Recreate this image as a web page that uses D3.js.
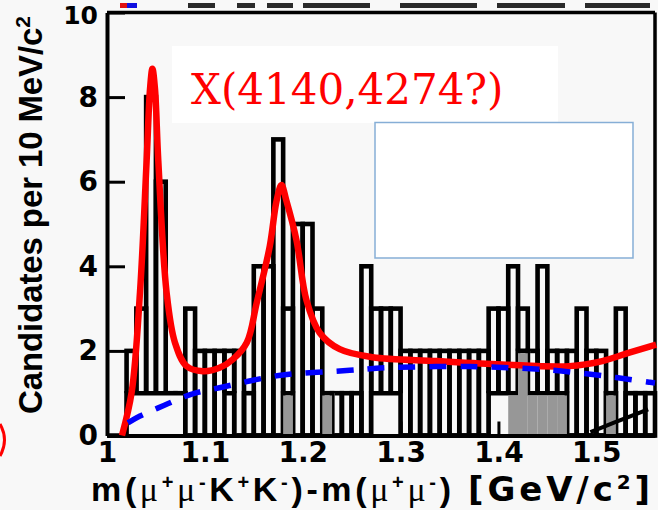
<!DOCTYPE html>
<html>
<head>
<meta charset="utf-8">
<script src="https://cdn.jsdelivr.net/npm/d3@7"></script>
<style>
  html, body { margin: 0; padding: 0; background: #f8f8f8; }
  svg { display: block; }
</style>
</head>
<body>
<svg id="chart" width="658" height="510"></svg>
<script>
// ---- data -------------------------------------------------------------
// Low edges of the 10 MeV/c^2 bins in m(mu mu K K) - m(mu mu) [GeV/c^2]
const binLowEdges = [
  1.00, 1.01, 1.02, 1.03, 1.04, 1.05, 1.06, 1.07, 1.08, 1.09,
  1.10, 1.11, 1.12, 1.13, 1.14, 1.15, 1.16, 1.17, 1.18, 1.19,
  1.20, 1.21, 1.22, 1.23, 1.24, 1.25, 1.26, 1.27, 1.28, 1.29,
  1.30, 1.31, 1.32, 1.33, 1.34, 1.35, 1.36, 1.37, 1.38, 1.39,
  1.40, 1.41, 1.42, 1.43, 1.44, 1.45, 1.46, 1.47, 1.48, 1.49,
  1.50, 1.51, 1.52, 1.53, 1.54, 1.55
];
const binWidth = 0.01;

// Candidates per bin (outlined histogram)
const candidates = [
  0, 0, 2, 3, 8, 6, 1, 1, 3, 2,
  2, 2, 2, 2, 1, 4, 4, 7, 3, 5,
  5, 3, 1, 1, 1, 1, 4, 3, 3, 3,
  2, 2, 2, 2, 2, 2, 2, 2, 2, 3,
  3, 4, 3, 2, 4, 2, 2, 2, 3, 2,
  2, 1, 3, 1, 1, 1
];

// Lower stacked component (open, no inner bin edges)
const lowerCounts = [
  0, 0, 1, 1, 1, 1, 1, 1, 0, 0,
  0, 0, 1, 0, 0, 0, 0, 0, 1, 0,
  0, 0, 1, 0, 0, 0, 0, 1, 1, 1,
  0, 0, 0, 0, 0, 0, 0, 0, 0, 1,
  1, 1, 2, 1, 1, 1, 1, 0, 0, 0,
  0, 1, 0, 0, 0, 0
];

// Shaded component
const shadedCounts = [
  0, 0, 0, 0, 0, 0, 0, 0, 0, 0,
  0, 0, 0, 0, 0, 0, 0, 0, 1, 0,
  0, 0, 1, 0, 0, 0, 0, 0, 0, 0,
  0, 0, 0, 0, 0, 0, 0, 0, 0, 0,
  0, 1, 2, 1, 1, 1, 1, 0, 0, 0,
  0, 1, 0, 0, 0, 0
];

// Total fit (solid red): [deltaM, candidates]
const fitTotal = [
  [1.0153, 0.00], [1.0252, 1.02], [1.0337, 3.38], [1.0405, 6.50], [1.0440, 8.20],
  [1.0464, 8.67], [1.0490, 8.20], [1.0524, 6.50], [1.0609, 3.38], [1.0694, 2.20],
  [1.0813, 1.64], [1.0980, 1.52], [1.1150, 1.60], [1.1286, 1.80], [1.1429, 2.20],
  [1.1530, 3.14], [1.1663, 4.47], [1.1733, 5.55], [1.1783, 5.92], [1.1833, 5.55],
  [1.1936, 4.62], [1.2038, 3.20], [1.2173, 2.43], [1.2378, 2.04], [1.2714, 1.85],
  [1.3367, 1.76], [1.4041, 1.68], [1.4724, 1.64], [1.5061, 1.76], [1.5337, 1.96],
  [1.5612, 2.15]
];

// Background component (dashed blue)
const fitBackground = [
  [1.0214, 0.30], [1.0337, 0.46], [1.0592, 0.72], [1.0867, 0.98], [1.1173, 1.14],
  [1.1480, 1.30], [1.1796, 1.43], [1.2480, 1.54], [1.2837, 1.60], [1.3704, 1.63],
  [1.4449, 1.56], [1.4857, 1.47], [1.5204, 1.37], [1.5541, 1.26], [1.5600, 1.24]
];

// Extra black curve rising at the upper end of the range
const extraCurve = [
  [1.4940, 0.08], [1.5200, 0.32], [1.5530, 0.62]
];

const xTickValues = [1.0, 1.1, 1.2, 1.3, 1.4, 1.5];
const xTickLabels = ["1", "1.1", "1.2", "1.3", "1.4", "1.5"];
const yTickValues = [0, 2, 4, 6, 8, 10];
const yTickLabels = ["0", "2", "4", "6", "8", "10"];

const peakLabel = "X(4140,4274?)";

// ---- layout -----------------------------------------------------------
const BG = "#f8f8f8";
const svg = d3.select("#chart");
const W = 658, H = 510;

const x = d3.scaleLinear().domain([1.0, 1.56]).range([107, 655]);
const y = d3.scaleLinear().domain([0, 10]).range([435.5, 12.5]);

const LW = 4.6;          // histogram line width
const tickFont = "'DejaVu Sans', sans-serif";
const titleFont = "'Liberation Sans', Arial, sans-serif";
const greekFont = "'Liberation Serif', 'Times New Roman', serif";

svg.append("rect").attr("width", W).attr("height", H).attr("fill", BG);

const bins = binLowEdges.map((lo, i) => ({
  lo, hi: lo + binWidth,
  n: candidates[i], low: lowerCounts[i], shade: shadedCounts[i]
}));

const hist = svg.append("g");

// outlined boxes, one per bin
hist.selectAll("rect.box")
  .data(bins.filter(b => b.n > 0))
  .join("rect")
  .attr("class", "box")
  .attr("x", d => x(d.lo))
  .attr("width", d => x(d.hi) - x(d.lo))
  .attr("y", d => y(d.n))
  .attr("height", d => y(0) - y(d.n))
  .attr("fill", "none")
  .attr("stroke", "#000")
  .attr("stroke-width", LW);

// lower stacked component: open area
hist.selectAll("rect.low")
  .data(bins.filter(b => b.low > 0))
  .join("rect")
  .attr("class", "low")
  .attr("x", d => x(d.lo) - LW / 2)
  .attr("width", d => x(d.hi) - x(d.lo) + LW)
  .attr("y", d => y(d.low))
  .attr("height", d => y(0) - y(d.low))
  .attr("fill", BG);

// its step outline
const lowSteps = [];
bins.forEach(b => { lowSteps.push([b.lo, b.low]); lowSteps.push([b.hi, b.low]); });
hist.append("path")
  .datum(lowSteps)
  .attr("d", d3.line().x(d => x(d[0])).y(d => y(d[1])))
  .attr("fill", "none")
  .attr("stroke", "#000")
  .attr("stroke-width", LW)
  .attr("stroke-linejoin", "miter");

// shaded component
hist.selectAll("rect.shade")
  .data(bins.filter(b => b.shade > 0))
  .join("rect")
  .attr("class", "shade")
  .attr("x", d => x(d.lo))
  .attr("width", d => x(d.hi) - x(d.lo))
  .attr("y", d => y(d.shade) + LW / 2)
  .attr("height", d => y(0) - y(d.shade) - LW / 2)
  .attr("fill", "#979797");

// ---- axes and frame ---------------------------------------------------
const yAxis = d3.axisLeft(y)
  .tickValues(yTickValues)
  .tickFormat((d, i) => yTickLabels[i])
  .tickSize(-18).tickSizeOuter(0).tickPadding(9);
const gy = svg.append("g").attr("transform", `translate(${x(1.0)},0)`).call(yAxis);

const xAxis = d3.axisBottom(x)
  .tickValues(xTickValues)
  .tickFormat((d, i) => xTickLabels[i])
  .tickSize(-14).tickSizeOuter(0).tickPadding(7);
const gx = svg.append("g").attr("transform", `translate(0,${y(0)})`).call(xAxis);

[gx, gy].forEach(g => {
  g.select(".domain").attr("stroke", "#000").attr("stroke-width", 4);
  g.selectAll(".tick line").attr("stroke", "#000").attr("stroke-width", 3);
  g.selectAll(".tick text")
    .attr("fill", "#000")
    .style("font-family", tickFont)
    .style("font-weight", "bold")
    .style("font-size", "28px");
});
// the top label sits against the upper edge: slightly smaller, nudged down
gy.selectAll(".tick text")
  .filter(d => d === 10)
  .attr("dy", null).attr("y", 11)
  .style("font-size", "25px");

// top and right frame
svg.append("line")
  .attr("x1", x(1.0)).attr("x2", x(1.56))
  .attr("y1", y(10)).attr("y2", y(10))
  .attr("stroke", "#000").attr("stroke-width", 3.5);
svg.append("line")
  .attr("x1", x(1.56)).attr("x2", x(1.56))
  .attr("y1", y(10)).attr("y2", y(0))
  .attr("stroke", "#000").attr("stroke-width", 3.5);

// ---- fit curves -------------------------------------------------------
const curveLine = d3.line()
  .x(d => x(d[0])).y(d => y(d[1]))
  .curve(d3.curveCatmullRom.alpha(0.5));

svg.append("path")
  .datum(extraCurve)
  .attr("d", curveLine)
  .attr("fill", "none").attr("stroke", "#000").attr("stroke-width", 4);

svg.append("path")
  .datum(fitTotal)
  .attr("d", curveLine)
  .attr("fill", "none").attr("stroke", "#ff0000")
  .attr("stroke-width", 6.5).attr("stroke-linejoin", "round");

svg.append("path")
  .datum(fitBackground)
  .attr("d", curveLine)
  .attr("fill", "none").attr("stroke", "#0000ff")
  .attr("stroke-width", 5.5).attr("stroke-dasharray", "17,14");

// ---- annotations ------------------------------------------------------
svg.append("rect")
  .attr("x", 172).attr("y", 46).attr("width", 386).attr("height", 77)
  .attr("fill", "#ffffff");
svg.append("text")
  .attr("x", 191).attr("y", 104)
  .attr("fill", "#ff0000")
  .style("font-family", "'DejaVu Serif', serif")
  .style("font-size", "42px")
  .text(peakLabel);

svg.append("rect")
  .attr("x", 375).attr("y", 122.5).attr("width", 258).attr("height", 135.5)
  .attr("fill", "#ffffff").attr("stroke", "#86aed6").attr("stroke-width", 1.5);

// axis titles
const yTitle = svg.append("text")
  .attr("transform", "translate(42,215) rotate(-90)")
  .attr("text-anchor", "middle")
  .attr("textLength", 398).attr("lengthAdjust", "spacing")
  .attr("fill", "#000")
  .style("font-family", titleFont).style("font-weight", "bold").style("font-size", "33px");
yTitle.append("tspan").text("Candidates per 10 MeV/c");
yTitle.append("tspan").attr("dy", -12).style("font-size", "21px").text("2");

// x title: the mass expression, then the unit in brackets
const TITLE_Y = 501;
const SUP = 12;
const xTitle = svg.append("text")
  .attr("x", 91).attr("y", TITLE_Y)
  .attr("textLength", 360).attr("lengthAdjust", "spacing")
  .attr("fill", "#000")
  .style("font-family", titleFont).style("font-weight", "bold").style("font-size", "34px");
const greek = (dy) => xTitle.append("tspan").attr("dy", dy)
  .style("font-family", greekFont).style("font-weight", "normal").text("\u03bc");
const sup = (txt) => xTitle.append("tspan").attr("dy", -SUP).style("font-size", "20px").text(txt);
const base = (txt) => xTitle.append("tspan").attr("dy", SUP).text(txt);
xTitle.append("tspan").text("m(");
greek(0); sup("+");
greek(SUP); sup("-");
base("K"); sup("+");
base("K"); sup("-");
base(")-m(");
greek(0); sup("+");
greek(SUP); sup("-");
base(")");

const xUnit = svg.append("text")
  .attr("x", 468).attr("y", TITLE_Y)
  .attr("textLength", 182).attr("lengthAdjust", "spacing")
  .attr("fill", "#000")
  .style("font-family", tickFont).style("font-weight", "bold").style("font-size", "34px");
xUnit.append("tspan").text("[GeV/c");
xUnit.append("tspan").attr("dy", -SUP).style("font-size", "20px").text("2");
xUnit.append("tspan").attr("dy", SUP).text("]");

// ---- clipped strip along the top edge --------------------------------
const topBits = [[188, 215], [237, 255], [267, 293], [303, 370], [400, 477], [497, 565], [585, 650]];
svg.selectAll("rect.bit").data(topBits).join("rect")
  .attr("class", "bit")
  .attr("x", d => d[0]).attr("width", d => d[1] - d[0])
  .attr("y", 3).attr("height", 5).attr("fill", "#2a2a2a");
svg.append("rect").attr("x", 120).attr("y", 3).attr("width", 7).attr("height", 5).attr("fill", "#e01010");
svg.append("rect").attr("x", 127).attr("y", 3).attr("width", 10).attr("height", 5).attr("fill", "#1010e0");

// small red arc at the left edge
svg.append("path")
  .attr("d", "M0,424 Q9,440 0,456")
  .attr("fill", "none").attr("stroke", "#ff0000").attr("stroke-width", 3);
</script>
</body>
</html>
